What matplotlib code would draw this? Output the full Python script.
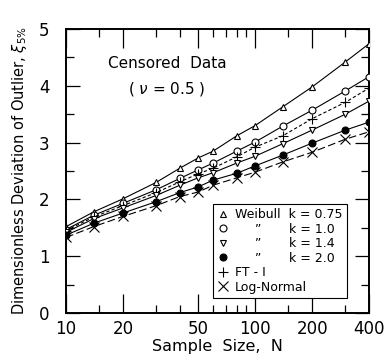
import matplotlib
matplotlib.use('Agg')
import matplotlib.pyplot as plt
from matplotlib.lines import Line2D
from matplotlib.ticker import FixedLocator, NullFormatter, FixedFormatter

# ---- data ----
sample_size = [10, 14, 20, 30, 40, 50, 60, 80, 100, 140, 200, 300, 400]
weibull_075 = [1.52, 1.78, 2.01, 2.30, 2.55, 2.73, 2.85, 3.12, 3.30, 3.63, 3.98, 4.42, 4.74]
weibull_10 = [1.47, 1.72, 1.93, 2.17, 2.37, 2.52, 2.64, 2.85, 3.01, 3.29, 3.57, 3.91, 4.16]
ft1 = [1.45, 1.69, 1.89, 2.12, 2.31, 2.45, 2.55, 2.75, 2.92, 3.12, 3.42, 3.71, 3.96]
weibull_14 = [1.42, 1.66, 1.85, 2.07, 2.25, 2.38, 2.47, 2.64, 2.76, 2.98, 3.22, 3.50, 3.73]
weibull_20 = [1.37, 1.58, 1.76, 1.96, 2.12, 2.22, 2.34, 2.46, 2.59, 2.78, 2.99, 3.22, 3.36]
log_normal = [1.33, 1.52, 1.70, 1.89, 2.05, 2.13, 2.25, 2.38, 2.48, 2.66, 2.83, 3.06, 3.19]

x_major = [10, 20, 50, 100, 200, 400]
x_major_labels = ['10', '20', '50', '100', '200', '400']
x_minor = [15, 30, 40, 60, 70, 80, 90, 150, 300]
y_major = [0, 1, 2, 3, 4, 5]
y_minor = [0.5, 1.5, 2.5, 3.5, 4.5]

legend_labels = ['Weibull  k = 0.75', '', '', '', 'FT - I', 'Log-Normal']
k_labels = ['k = 1.0', 'k = 1.4', 'k = 2.0']

plt.rcParams['font.family'] = ['DejaVu Sans']

fig = plt.figure(figsize=(3.86, 3.62), dpi=100)
ax = fig.add_axes([66/386, 49/362, 303/386, 284/362])
ax.set_xscale('log')

styles = [
    (weibull_075, '^', 'white', '-', None),
    (weibull_10, 'o', 'white', '-', None),
    (ft1, '+', 'black', '--', (3, 2)),
    (weibull_14, 'v', 'white', '-', None),
    (weibull_20, 'o', 'black', '-', None),
    (log_normal, 'x', 'black', '--', (7, 3)),
]
handles = []
for vals, mk, fc, ls, dash in styles:
    ms = 5 if mk not in '+x' else 6.5
    kw = dict(color='black', lw=0.8, marker=mk, markersize=ms,
              markerfacecolor=fc, markeredgecolor='black', markeredgewidth=0.8,
              linestyle=ls, zorder=3)
    line, = ax.plot(sample_size, vals, **kw)
    if dash is not None:
        line.set_dashes(dash)
    handles.append(Line2D([], [], linestyle='none', marker=mk, markersize=ms,
                          markerfacecolor=fc, markeredgecolor='black',
                          markeredgewidth=0.8))

# order legend: W0.75, W1.0, W1.4, W2.0, FT-I, LN
order = [0, 1, 3, 4, 2, 5]
leg_handles = [handles[i] for i in order]

ax.set_xlim(10, 400)
ax.set_ylim(0, 5)

ax.xaxis.set_major_locator(FixedLocator(x_major))
ax.xaxis.set_major_formatter(FixedFormatter(x_major_labels))
ax.xaxis.set_minor_locator(FixedLocator(x_minor))
ax.xaxis.set_minor_formatter(NullFormatter())
ax.yaxis.set_major_locator(FixedLocator(y_major))
ax.yaxis.set_minor_locator(FixedLocator(y_minor))

ax.tick_params(axis='both', which='both', direction='in', top=True, right=True,
               width=0.9, labelsize=12)
ax.tick_params(axis='x', which='major', length=14, pad=5)
ax.tick_params(axis='x', which='minor', length=6)
ax.tick_params(axis='y', which='major', length=10, pad=12)
ax.tick_params(axis='y', which='minor', length=6)
for sp in ax.spines.values():
    sp.set_linewidth(1.4)

ax.set_xlabel('Sample  Size,  N', fontsize=11.5, labelpad=1)
ax.set_ylabel(r'Dimensionless Deviation of Outlier, $\xi_{5\%}$', fontsize=10.5, labelpad=7)

ax.text(0.333, 0.88, 'Censored  Data', transform=ax.transAxes, ha='center', va='center', fontsize=11)
ax.text(0.333, 0.79, r'( $\nu$ = 0.5 )', transform=ax.transAxes, ha='center', va='center', fontsize=11)

leg = ax.legend(leg_handles, legend_labels, loc='lower right',
                bbox_to_anchor=(0.927, 0.053), borderaxespad=0, fontsize=9,
                fancybox=False, framealpha=1, edgecolor='black',
                handlelength=0.8, handletextpad=0.6, labelspacing=0.12,
                borderpad=0.35)
leg.get_frame().set_linewidth(0.8)

fig.canvas.draw()
r = fig.canvas.get_renderer()
texts = leg.get_texts()
bb0 = texts[0].get_window_extent(r)
bb4 = texts[4].get_window_extent(r)
yc0 = (bb0.y0 + bb0.y1) / 2
yc4 = (bb4.y0 + bb4.y1) / 2
step = (yc4 - yc0) / 4

def width_of(s):
    t = fig.text(0, 0, s, fontsize=9)
    w = t.get_window_extent(r).width
    t.remove()
    return w

xk = bb0.x0 + width_of('Weibull  k') - width_of('k')
xd = bb0.x0 + width_of('Weibull') / 2
inv = fig.transFigure.inverted()
for i, kl in enumerate(k_labels, start=1):
    yc = yc0 + step * i
    fx, fy = inv.transform((xk, yc))
    fig.text(fx, fy, kl, fontsize=9, ha='left', va='center', zorder=10)
    fx, fy = inv.transform((xd, yc))
    fig.text(fx, fy, '\u201d', fontsize=9, ha='center', va='center', zorder=10)

fig.savefig('out.png', dpi=100)
